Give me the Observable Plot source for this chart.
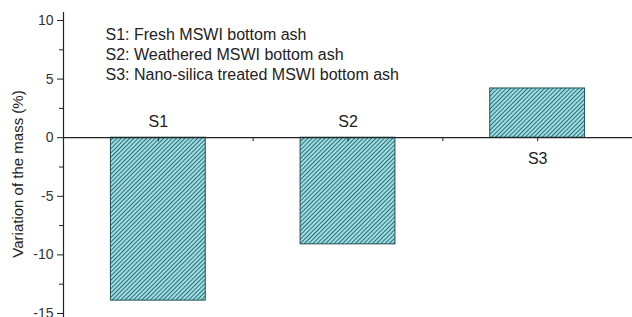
<!DOCTYPE html>
<html>
<head>
<meta charset="utf-8">
<script src="https://cdn.jsdelivr.net/npm/d3@7"></script>
<script src="https://cdn.jsdelivr.net/npm/@observablehq/plot@0.6"></script>
<style>
  html, body { margin: 0; padding: 0; background: #fff; }
  svg { display: block; }
</style>
</head>
<body>
<div id="chart"></div>
<script>
const categories = ["S1", "S2", "S3"];
const values = [-13.9, -9.1, 4.2];
const yTicks = [-15, -10, -5, 0, 5, 10];
const yMinorTicks = [-12.5, -7.5, -2.5, 2.5, 7.5];
const legendLines = [
  "S1: Fresh MSWI bottom ash",
  "S2: Weathered MSWI bottom ash",
  "S3: Nano-silica treated MSWI bottom ash"
];
const yLabel = "Variation of the mass (%)";

const data = categories.map((c, i) => ({cat: c, i, value: values[i]}));
const xTicks = categories.flatMap((c, i) => [i + 0.5, i + 1]);

const font = "'Liberation Sans', Arial, sans-serif";
const textColor = "#222";

const plot = Plot.plot({
  width: 632,
  height: 317,
  marginTop: 20,
  marginBottom: 4,
  marginLeft: 63,
  marginRight: 0,
  style: {fontFamily: font, fontSize: "14px", color: textColor, background: "#fff"},
  x: {domain: [0, categories.length], axis: null},
  y: {domain: [-15, 10], axis: null},
  marks: [
    Plot.rectY(data, {
      x1: d => d.i + 0.25,
      x2: d => d.i + 0.75,
      y: "value",
      fill: "url(#hatch)",
      stroke: "#1f4f57",
      strokeWidth: 1
    }),
    Plot.ruleY([0], {stroke: "#222", strokeWidth: 1.2}),
    Plot.ruleX(xTicks, {x: d => d, y1: 0, y2: 0, insetBottom: -4, stroke: "#222"}),
    Plot.ruleX([0], {stroke: "#222", strokeWidth: 1.2, insetTop: -8, insetBottom: -4}),
    Plot.axisY({ticks: yTicks, tickSize: 6, tickPadding: 4, tickFormat: d => String(d), label: null, fontSize: 14, fill: "#333"}),
    Plot.axisY({ticks: yMinorTicks, tickSize: 4, tickFormat: () => "", label: null}),
    Plot.text(data.filter(d => d.value < 0), {
      x: d => d.i + 0.5,
      y: 0,
      text: "cat",
      dy: -16,
      fontSize: 16,
      fill: textColor
    }),
    Plot.text(data.filter(d => d.value >= 0), {
      x: d => d.i + 0.5,
      y: 0,
      text: "cat",
      dy: 21,
      fontSize: 16,
      fill: textColor
    }),
    Plot.text([legendLines.join("\n")], {
      frameAnchor: "top-left",
      textAnchor: "start",
      lineAnchor: "middle",
      dx: 42,
      dy: 33,
      lineHeight: 1.25,
      fontSize: 16,
      fill: textColor
    }),
    Plot.text([yLabel], {
      frameAnchor: "left",
      textAnchor: "middle",
      rotate: -90,
      dx: -45,
      dy: 7,
      fontSize: 15,
      fill: textColor
    })
  ]
});

const ns = "http://www.w3.org/2000/svg";
const defs = document.createElementNS(ns, "defs");
defs.innerHTML = `
  <pattern id="hatch" patternUnits="userSpaceOnUse" width="3" height="3" patternTransform="rotate(45)">
    <rect width="3" height="3" fill="#9fdde3"></rect>
    <line x1="0.5" y1="0" x2="0.5" y2="3" stroke="#2f6f78" stroke-width="1"></line>
  </pattern>`;
plot.insertBefore(defs, plot.firstChild);
document.getElementById("chart").appendChild(plot);
</script>
</body>
</html>
